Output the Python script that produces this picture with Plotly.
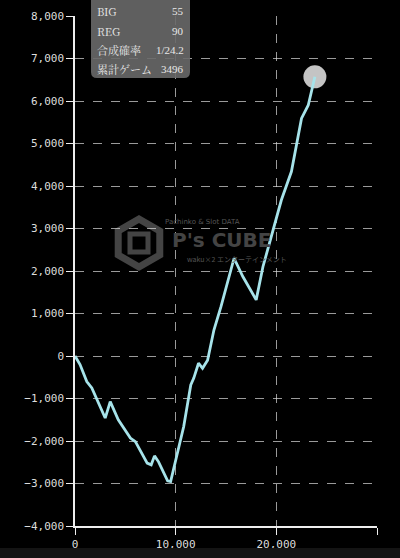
import math
import plotly.graph_objects as go

games = [0, 500, 1170, 1670, 3000, 3500, 4300, 5500, 6000, 7170, 7570, 7900, 8300,
         9200, 9500, 10170, 10800, 11500, 11800, 12270, 12670, 13170, 13800, 14500,
         15800, 16670, 18000, 18670, 20170, 20500, 21500, 22500, 23170, 23830]
diff = [0, -200, -600, -750, -1460, -1075, -1500, -1930, -2015, -2520, -2560, -2350,
        -2490, -2935, -2955, -2250, -1660, -680, -520, -170, -290, -100, 610, 1160,
        2300, 1870, 1320, 2100, 3430, 3670, 4340, 5590, 5900, 6570]

x_tickvals = [0, 10000, 20000, 30000]
x_ticktext = ["0", "10,000", "20,000", ""]

info_labels = ["BIG", "REG", "合成確率", "累計ゲーム"]
info_values = ["55", "90", "1/24.2", "3496"]

fig = go.Figure()
fig.add_trace(go.Scatter(x=[games[-1]], y=[diff[-1]], mode="markers",
                         marker=dict(size=23, color="#c4c4c4"), hoverinfo="skip"))
fig.add_trace(go.Scatter(x=games, y=diff, mode="lines",
                         line=dict(color="#a6e3ea", width=2.8), hoverinfo="skip"))

W, H = 400, 558
L, R, T, B = 75, 23, 16, 32
pw, ph = W - L - R, H - T - B

def px(x):
    return (x - L) / pw

def py(y):
    return (H - B - y) / ph

WM = "#444444"
# watermark hexagon
cx, cy, r = 139, 243, 24
pts = []
for k in range(6):
    a = math.radians(90 + 60 * k)
    pts.append((px(cx + r * math.cos(a)), py(cy - r * math.sin(a))))
path = "M " + " L ".join(f"{a:.4f},{b:.4f}" for a, b in pts) + " Z"

# rounded info box
bx0, bx1, by0, by1, rr = 91, 190, -6, 78, 6
box = (f"M {px(bx0)},{py(by0)} L {px(bx1)},{py(by0)} L {px(bx1)},{py(by1 - rr)} "
       f"Q {px(bx1)},{py(by1)} {px(bx1 - rr)},{py(by1)} L {px(bx0 + rr)},{py(by1)} "
       f"Q {px(bx0)},{py(by1)} {px(bx0)},{py(by1 - rr)} Z")

shapes = [dict(type="path", path=path, xref="paper", yref="paper",
               line=dict(color=WM, width=7), layer="below"),
          dict(type="rect", xref="paper", yref="paper", x0=px(130), x1=px(148),
               y0=py(252), y1=py(234), line=dict(color=WM, width=5), layer="below"),
          dict(type="rect", xref="paper", yref="paper", x0=px(0), x1=px(400),
               y0=py(558), y1=py(548), fillcolor="#141414",
               line=dict(width=0), layer="above"),
          dict(type="path", path=box, xref="paper", yref="paper",
               fillcolor="rgba(105,105,105,0.9)", line=dict(width=0), layer="above")]

annotations = []
for i, (lab, val) in enumerate(zip(info_labels, info_values)):
    yy = py(11 + i * 19.5)
    annotations.append(dict(x=px(95), y=yy, xref="paper", yref="paper", text=lab,
                            showarrow=False, xanchor="left", yanchor="middle",
                            font=dict(family="Noto Serif CJK JP, Liberation Serif, serif",
                                      size=11, color="#e8e8e8")))
    annotations.append(dict(x=px(186), y=yy, xref="paper", yref="paper", text=val,
                            showarrow=False, xanchor="right", yanchor="middle",
                            font=dict(family="Liberation Serif, serif", size=11, color="#e8e8e8")))

annotations += [
    dict(x=px(202), y=py(222), xref="paper", yref="paper", text="Pachinko &amp; Slot DATA",
         showarrow=False, font=dict(family="DejaVu Sans", size=7, color="#555555")),
    dict(x=px(221), y=py(240), xref="paper", yref="paper", text="<b>P's CUBE</b>",
         showarrow=False, font=dict(family="DejaVu Sans", size=20, color=WM)),
    dict(x=px(237), y=py(259), xref="paper", yref="paper", text="waku×2 エンターテインメント",
         showarrow=False, font=dict(family="Noto Sans CJK JP", size=7, color="#555555")),
]

axis_font = dict(family="DejaVu Sans Mono", size=11, color="#dddddd")
common = dict(showline=True, linecolor="#eeeeee", linewidth=1.5, ticks="outside", ticklen=7,
              tickcolor="#eeeeee", showgrid=True, gridcolor="rgba(220,220,220,0.7)",
              griddash="dash", gridwidth=1, zeroline=False, tickfont=axis_font,
              automargin=False)
fig.update_layout(
    width=W, height=H, margin=dict(l=L, r=R, t=T, b=B),
    paper_bgcolor="black", plot_bgcolor="black", showlegend=False,
    shapes=shapes, annotations=annotations,
    xaxis=dict(range=[0, 30000], tickvals=x_tickvals, ticktext=x_ticktext, **common),
    yaxis=dict(range=[-4000, 8000], dtick=1000, tickformat=",", **common),
)
fig.write_html("out.html", config={"displayModeBar": False},
               post_script="document.body.style.margin='0';document.body.style.background='black';")
